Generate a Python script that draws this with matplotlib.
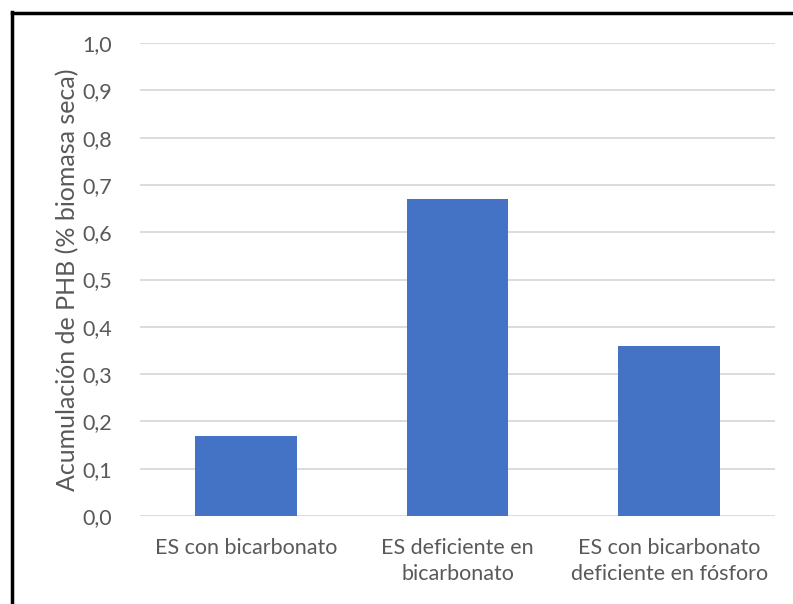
# Acumulación de PHB - bar chart
import numpy as np
import matplotlib.pyplot as plt
from matplotlib.lines import Line2D

plt.rcParams['font.family'] = ['Lato', 'DejaVu Sans']

categories = ["ES con bicarbonato",
              "ES deficiente en\nbicarbonato",
              "ES con bicarbonato\ndeficiente en fósforo"]
values = [0.17, 0.67, 0.36]
yticks = np.arange(0, 1.01, 0.1)
ytick_labels = [f"{t:.1f}".replace(".", ",") for t in yticks]

text_color = "#595959"

fig = plt.figure(figsize=(7.93, 6.04), dpi=100)
ax = fig.add_axes([0.1765, 0.1457, 0.8008, 0.7831])

x = np.arange(len(categories))
ax.bar(x, values, width=0.48, color="#4472C4", zorder=3)

ax.set_xlim(-0.5, 2.5)
ax.set_ylim(0, 1.0)
ax.set_yticks(yticks)
ax.set_yticklabels(ytick_labels)
ax.set_xticks(x)
ax.set_xticklabels(categories, linespacing=1.35)
ax.tick_params(axis="both", length=0, labelsize=15.5, colors=text_color)
ax.tick_params(axis="y", pad=20)
ax.tick_params(axis="x", pad=16)

ax.grid(axis="y", color="#D9D9D9", linewidth=1.3, zorder=0)
for s in ax.spines.values():
    s.set_visible(False)

ax.set_ylabel("Acumulación de PHB (% biomasa seca)", fontsize=18,
              color=text_color, labelpad=2)

# black frame around the picture (only top and left visible)
fig.add_artist(Line2D([11.5 / 793, 11.5 / 793], [0, 1 - 11.5 / 604],
                      color="black", linewidth=2.5, transform=fig.transFigure))
fig.add_artist(Line2D([11.5 / 793, 1], [1 - 12.5 / 604, 1 - 12.5 / 604],
                      color="black", linewidth=2.5, transform=fig.transFigure))

fig.savefig("out.png", dpi=100)
